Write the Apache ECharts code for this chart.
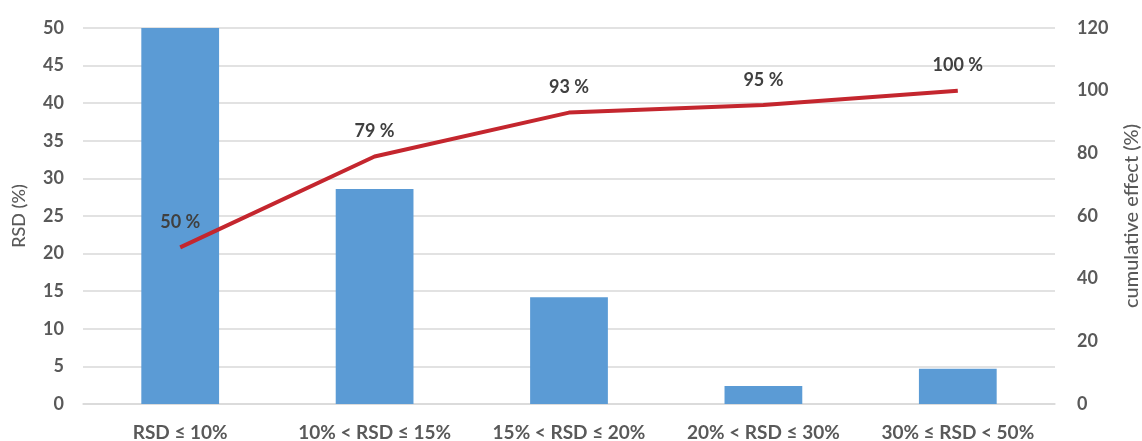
<!DOCTYPE html>
<html><head><meta charset="utf-8">
<script src="https://cdn.jsdelivr.net/npm/echarts@6/dist/echarts.min.js"></script>
<style>html,body{margin:0;padding:0;background:#fff}#c{width:1142px;height:441px}</style>
</head><body><div id="c"></div>
<script>
const categories = ['RSD ≤ 10%', '10% < RSD ≤ 15%', '15% < RSD ≤ 20%', '20% < RSD ≤ 30%', '30% ≤ RSD < 50%'];
const rsdValues = [50, 28.6, 14.2, 2.4, 4.7];
const cumulativeValues = [50, 79, 93, 95.4, 100];
const leftTicks = {min: 0, max: 50, interval: 5};
const rightTicks = {min: 0, max: 120, interval: 20};

const font = 'Lato, "Open Sans", sans-serif';
const chart = echarts.init(document.getElementById('c'));
chart.setOption({
  animation: false,
  grid: {left: 83, right: 87, top: 28, bottom: 37, outerBoundsMode: 'none', containLabel: false},
  xAxis: {
    type: 'category', data: categories,
    axisLine: {lineStyle: {color: '#D9D9D9', width: 1.5}},
    axisTick: {show: false},
    axisLabel: {interval: 0, hideOverlap: false, color: '#595959', fontFamily: font, fontWeight: 'bold', fontSize: 19, margin: 19}
  },
  yAxis: [{
    type: 'value', min: leftTicks.min, max: leftTicks.max, interval: leftTicks.interval,
    name: 'RSD (%)', nameLocation: 'middle', nameGap: 55, nameRotate: 90,
    nameTextStyle: {color: '#595959', fontFamily: font, fontSize: 18, fontWeight: 500},
    axisLine: {show: false}, axisTick: {show: false},
    splitLine: {lineStyle: {color: '#D9D9D9', width: 1.5}},
    axisLabel: {color: '#595959', fontFamily: font, fontWeight: 'bold', fontSize: 18, margin: 19}
  }, {
    type: 'value', min: rightTicks.min, max: rightTicks.max, interval: rightTicks.interval,
    name: 'cumulative effect (%)', nameLocation: 'middle', nameGap: 67, nameRotate: 90,
    nameTextStyle: {color: '#595959', fontFamily: font, fontSize: 20, fontWeight: 500},
    axisLine: {show: false}, axisTick: {show: false},
    splitLine: {show: false},
    axisLabel: {color: '#595959', fontFamily: font, fontWeight: 'bold', fontSize: 18, margin: 22}
  }],
  series: [{
    type: 'bar', data: rsdValues, barWidth: '40%',
    itemStyle: {color: '#5B9BD5'}
  }, {
    type: 'line', yAxisIndex: 1, data: cumulativeValues,
    symbol: 'circle', symbolSize: 0, showSymbol: true,
    itemStyle: {color: '#C4262E'},
    lineStyle: {color: '#C4262E', width: 4},
    label: {show: true, position: 'top', distance: 16, color: '#404040', fontFamily: font,
      fontWeight: 'bold', fontSize: 18, formatter: p => Math.round(p.value) + ' %'}
  }]
});
</script></body></html>
